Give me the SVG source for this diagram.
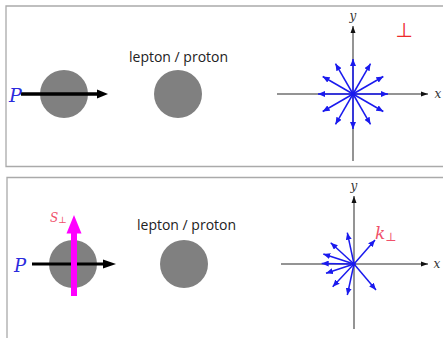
<svg xmlns="http://www.w3.org/2000/svg" width="443" height="338" viewBox="0 0 443 338">
<defs>
<style>
.frame{fill:none;stroke:#aaaaaa;stroke-width:1.3}
.ball{fill:#808080}
.axis{stroke:#707070;stroke-width:1.5;fill:none}
.kv{stroke:#1a1aee;stroke-width:1.5;fill:none}
.lbl{font-family:"Open Sans","Liberation Sans",sans-serif;font-size:14px;fill:#222}
.math{font-family:"DejaVu Serif","Liberation Serif",serif;font-style:italic}
.ax{font-family:"DejaVu Serif","Liberation Serif",serif;font-style:italic;font-size:12px;fill:#333;text-anchor:middle}
</style>
<marker id="bh" markerUnits="userSpaceOnUse" markerWidth="8" markerHeight="6" refX="7" refY="3" orient="auto">
<path d="M0,0 L7,3 L0,6 z" fill="#1a1aee"/>
</marker>
<marker id="ah" markerUnits="userSpaceOnUse" markerWidth="8" markerHeight="6" refX="7" refY="3" orient="auto">
<path d="M0,0.5 L7,3 L0,5.5 z" fill="#111"/>
</marker>
</defs>
<rect width="443" height="338" fill="#fff"/>

<g id="panel-top">
<path class="frame" d="M444,6 H6 V166.5 H444"/>
<g id="top-beam">
<circle class="ball" cx="64" cy="94" r="24"/>
<line x1="21" y1="94" x2="98" y2="94" stroke="#000" stroke-width="3.5"/>
<polygon points="97,89.5 108,94 97,98.5" fill="#000"/>
<text class="math" x="9" y="101.5" font-size="19" fill="#2b2bdd">P</text>
</g>
<g id="top-target">
<text class="lbl" x="129" y="62">lepton / proton</text>
<circle class="ball" cx="178" cy="94" r="24"/>
</g>
<g id="top-plane">
<line class="axis" x1="277" y1="94" x2="428" y2="94" marker-end="url(#ah)"/>
<line class="axis" x1="353" y1="161" x2="353" y2="26" marker-end="url(#ah)"/>
<text class="ax" x="438" y="98">x</text>
<text class="ax" x="353" y="20">y</text>
<text x="404" y="37" font-family="DejaVu Sans,sans-serif" font-size="20" fill="#ee2a2a" text-anchor="middle">⊥</text>
<g class="kv" marker-end="url(#bh)">
<line x1="353" y1="94" x2="388" y2="94"/>
<line x1="353" y1="94" x2="383.3" y2="76.5"/>
<line x1="353" y1="94" x2="370.5" y2="63.7"/>
<line x1="353" y1="94" x2="353" y2="59"/>
<line x1="353" y1="94" x2="335.5" y2="63.7"/>
<line x1="353" y1="94" x2="322.7" y2="76.5"/>
<line x1="353" y1="94" x2="318" y2="94"/>
<line x1="353" y1="94" x2="322.7" y2="111.5"/>
<line x1="353" y1="94" x2="335.5" y2="124.3"/>
<line x1="353" y1="94" x2="353" y2="129"/>
<line x1="353" y1="94" x2="370.5" y2="124.3"/>
<line x1="353" y1="94" x2="383.3" y2="111.5"/>
</g>
<circle cx="353" cy="94" r="2.2" fill="#1a1aee"/>
</g>
</g>

<g id="panel-bottom">
<path class="frame" d="M444,177.5 H7 V339"/>
<g id="bottom-beam">
<circle class="ball" cx="73" cy="264" r="24"/>
<line x1="32" y1="264" x2="104" y2="264" stroke="#000" stroke-width="3"/>
<polygon points="103,259.5 116,264 103,268.5" fill="#000"/>
<text class="math" x="14" y="271.5" font-size="18" fill="#2b2bdd">P</text>
<line x1="74" y1="296" x2="74" y2="232" stroke="#ff00ff" stroke-width="6"/>
<polygon points="66.5,233.5 74,215 81.5,233.5" fill="#ff00ff"/>
<text class="math" x="50" y="221.5" font-size="12" fill="#f0506a">S<tspan font-style="normal" font-size="9" dy="1">⊥</tspan></text>
</g>
<g id="bottom-target">
<text class="lbl" x="137" y="230">lepton / proton</text>
<circle class="ball" cx="184" cy="264" r="24"/>
</g>
<g id="bottom-plane">
<line class="axis" x1="281" y1="264" x2="428" y2="264" marker-end="url(#ah)"/>
<line class="axis" x1="354" y1="329" x2="354" y2="196" marker-end="url(#ah)"/>
<text class="ax" x="437" y="268">x</text>
<text class="ax" x="354" y="190">y</text>
<g class="kv" marker-end="url(#bh)">
<line x1="354" y1="264" x2="347.3" y2="232.7"/>
<line x1="354" y1="264" x2="330.7" y2="242.7"/>
<line x1="354" y1="264" x2="323.3" y2="254"/>
<line x1="354" y1="264" x2="321.7" y2="263.5"/>
<line x1="354" y1="264" x2="326" y2="273.3"/>
<line x1="354" y1="264" x2="332.7" y2="286.7"/>
<line x1="354" y1="264" x2="347.3" y2="295"/>
<line x1="354" y1="264" x2="376" y2="290"/>
<line x1="354" y1="264" x2="375" y2="240"/>
</g>
<circle cx="354" cy="264" r="1.8" fill="#1a1aee"/>
<text class="math" x="375" y="238.5" font-size="17" fill="#f0506a">k<tspan font-style="normal" font-size="12" dy="2">⊥</tspan></text>
</g>
</g>
</svg>
